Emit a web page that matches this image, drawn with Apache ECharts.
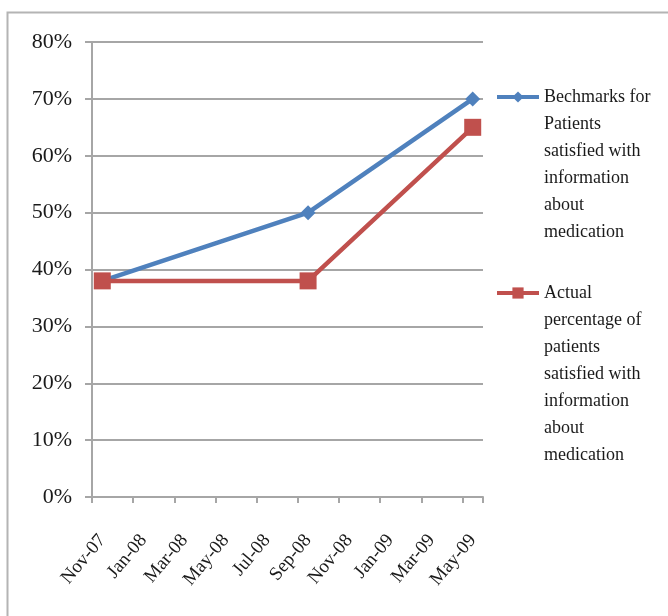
<!DOCTYPE html>
<html>
<head>
<meta charset="utf-8">
<script src="https://cdn.jsdelivr.net/npm/echarts@6/dist/echarts.min.js"></script>
<style>
  html, body { margin: 0; padding: 0; background: #fff; }
  #chart { width: 668px; height: 616px; }
</style>
</head>
<body>
<div id="chart"></div>
<script>
// Monthly date axis, one category per month
const months = ['Nov-07', 'Dec-07', 'Jan-08', 'Feb-08', 'Mar-08', 'Apr-08', 'May-08', 'Jun-08',
  'Jul-08', 'Aug-08', 'Sep-08', 'Oct-08', 'Nov-08', 'Dec-08', 'Jan-09', 'Feb-09', 'Mar-09',
  'Apr-09', 'May-09'];
// Survey points
const surveyMonths = ['Nov-07', 'Sep-08', 'May-09'];
const benchmark = [38, 50, 70];
const actual = [38, 38, 65];

const benchmarkName = 'Bechmarks for\nPatients\nsatisfied with\ninformation\nabout\nmedication';
const actualName = 'Actual\npercentage of\npatients\nsatisfied with\ninformation\nabout\nmedication';

const BLUE = '#4F81BD';
const RED = '#C0504D';
const GRID = '#a6a6a6';
const SERIF = '"Liberation Serif", "Times New Roman", serif';
const LINE_H = 27;

function pairs(xs, ys) { return xs.map((x, i) => [x, ys[i]]); }

// Legend entry whose wrapped text hangs below the icon row:
// blank lines above the name keep the first line level with the icon.
function legendFor(name, iconY) {
  const lines = name.split('\n').length;
  const total = 2 * lines - 1;
  return {
    data: [name],
    orient: 'vertical',
    left: 495,
    top: iconY - (total * LINE_H) / 2,
    padding: 0,
    itemWidth: 42,
    itemHeight: 14,
    lineStyle: { width: 4 },
    formatter: n => ' \n'.repeat(lines - 1) + n,
    textStyle: {
      fontFamily: SERIF, fontSize: 18, color: '#1a1a1a', lineHeight: LINE_H
    }
  };
}

const chart = echarts.init(document.getElementById('chart'));
chart.setOption({
  animation: false,
  backgroundColor: '#fff',
  graphic: [{
    type: 'rect', left: 5, top: 10, silent: true,
    shape: { width: 700, height: 700 },
    style: { fill: 'none', stroke: '#b4b4b4', lineWidth: 2 }
  }],
  grid: { left: 92, right: 185, top: 42, bottom: 119 },
  legend: [legendFor(benchmarkName, 97), legendFor(actualName, 293)],
  xAxis: {
    type: 'category',
    data: months,
    boundaryGap: true,
    axisLine: { show: true, lineStyle: { color: GRID, width: 2 } },
    axisTick: { show: true, interval: 1, length: 6, lineStyle: { color: GRID, width: 2 } },
    axisLabel: {
      interval: 1, rotate: 50, margin: 40,
      fontFamily: SERIF, fontSize: 19, color: '#1a1a1a'
    },
    splitLine: { show: false }
  },
  yAxis: {
    type: 'value',
    min: 0, max: 80, interval: 10,
    axisLine: { show: true, lineStyle: { color: GRID, width: 2 } },
    axisTick: { show: true, length: 7, lineStyle: { color: GRID, width: 2 } },
    axisLabel: {
      formatter: '{value}%', margin: 20,
      fontFamily: SERIF, fontSize: 22, color: '#1a1a1a'
    },
    splitLine: { show: true, lineStyle: { color: GRID, width: 2 } }
  },
  series: [
    {
      name: benchmarkName,
      type: 'line',
      data: pairs(surveyMonths, benchmark),
      symbol: 'diamond', symbolSize: 15,
      lineStyle: { color: BLUE, width: 4.5 },
      itemStyle: { color: BLUE }
    },
    {
      name: actualName,
      type: 'line',
      data: pairs(surveyMonths, actual),
      symbol: 'rect', symbolSize: 17,
      lineStyle: { color: RED, width: 4.5 },
      itemStyle: { color: RED }
    }
  ]
});
</script>
</body>
</html>
